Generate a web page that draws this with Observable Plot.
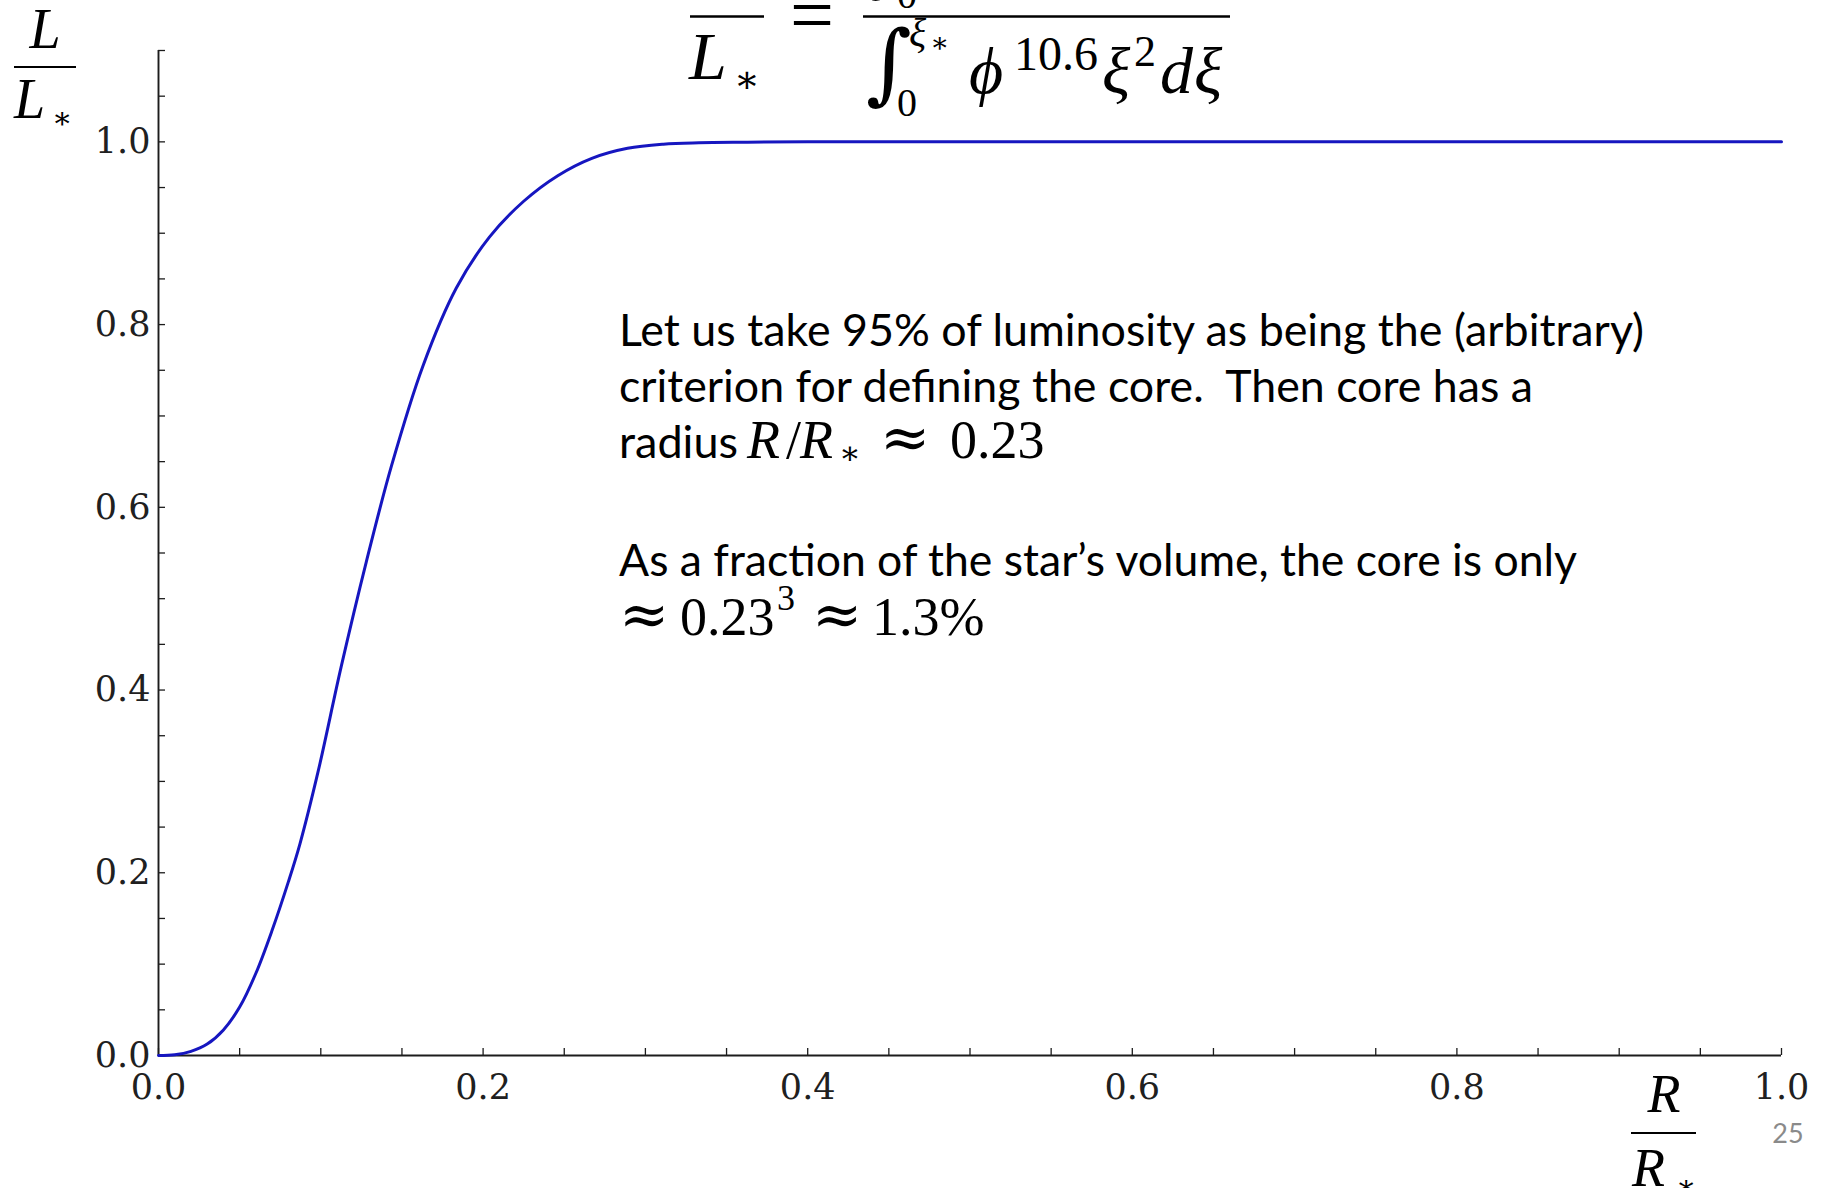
<!DOCTYPE html>
<html>
<head>
<meta charset="utf-8">
<script src="https://cdn.jsdelivr.net/npm/d3@7"></script>
<script src="https://cdn.jsdelivr.net/npm/@observablehq/plot@0.6"></script>
<style>
  html, body { margin: 0; padding: 0; background: #fff; }
  #chart { position: relative; width: 1828px; height: 1188px; overflow: hidden; }
  #chart svg { display: block; }
</style>
</head>
<body>
<div id="chart"></div>
<script>
// Enclosed luminosity L/L* as a function of fractional radius R/R*
const radius = [0, 0.01, 0.02, 0.03, 0.04, 0.05, 0.06, 0.07, 0.08, 0.0872,
  0.0985, 0.1125, 0.128, 0.1435, 0.163, 0.1835, 0.204, 0.225, 0.246, 0.267,
  0.289, 0.311, 0.333, 0.36, 0.40, 0.50, 0.60, 0.70, 0.80, 0.90, 1.0];
const luminosity = [0, 0.0008, 0.0045, 0.0125, 0.028, 0.053, 0.090, 0.137, 0.190, 0.232,
  0.312, 0.425, 0.540, 0.645, 0.755, 0.840, 0.896, 0.935, 0.963, 0.982,
  0.993, 0.9975, 0.999, 0.9996, 1.0, 1.0, 1.0, 1.0, 1.0, 1.0, 1.0];

// Labelled ticks and the finer inward tick marks (every 0.05)
const xLabelTicks = [0, 0.2, 0.4, 0.6, 0.8, 1.0];
const yLabelTicks = [0, 0.2, 0.4, 0.6, 0.8, 1.0];
const xMarkTicks = [0, 0.05, 0.1, 0.15, 0.2, 0.25, 0.3, 0.35, 0.4, 0.45, 0.5, 0.55, 0.6, 0.65,
  0.7, 0.75, 0.8, 0.85, 0.9, 0.95, 1.0];
const yMarkTicks = [0, 0.05, 0.1, 0.15, 0.2, 0.25, 0.3, 0.35, 0.4, 0.45, 0.5, 0.55, 0.6, 0.65,
  0.7, 0.75, 0.8, 0.85, 0.9, 0.95, 1.0, 1.05, 1.1];

const W = 1828, H = 1188;
const margin = {left: 158, right: 47, top: 50, bottom: 133};
const innerW = W - margin.left - margin.right;
const innerH = H - margin.top - margin.bottom;
const tickLen = 7;
const ink = "#1c1c1c";
const fmt = d3.format(".1f");

const rows = radius.map((r, i) => ({r, l: luminosity[i]}));

const svg = Plot.plot({
  width: W,
  height: H,
  marginLeft: margin.left,
  marginRight: margin.right,
  marginTop: margin.top,
  marginBottom: margin.bottom,
  x: {domain: [0, 1]},
  y: {domain: [0, 1.1]},
  style: {
    fontFamily: "'DejaVu Serif', 'Liberation Serif', serif",
    fontSize: "35px",
    color: "#202020",
    background: "#fff"
  },
  marks: [
    // inward-pointing tick marks on both spines
    Plot.tickX(xMarkTicks, {x: d => d, insetTop: innerH - tickLen, stroke: ink, strokeWidth: 1.3}),
    Plot.tickY(yMarkTicks, {y: d => d, insetRight: innerW - tickLen, stroke: ink, strokeWidth: 1.3}),
    Plot.ruleX([0], {stroke: ink, strokeWidth: 1.9}),
    Plot.ruleY([0], {stroke: ink, strokeWidth: 1.9}),
    Plot.axisX(xLabelTicks, {tickSize: 0, tickPadding: 19, tickFormat: fmt, label: null}),
    Plot.axisY(yLabelTicks, {tickSize: 0, tickPadding: 8, tickFormat: fmt, label: null}),
    Plot.line(rows, {x: "r", y: "l", stroke: "#1616c0", strokeWidth: 3, curve: "catmull-rom"})
  ]
});

document.getElementById("chart").appendChild(svg);

// ---- annotations: axis fractions, formula, notes, slide number ----
const g = d3.select(svg).append("g").attr("class", "annotations");
const serif = "'Liberation Serif', 'DejaVu Serif', serif";
const dejavu = "'DejaVu Serif', serif";
const sans = "Lato, 'Open Sans', sans-serif";

function txt(x, y, s, size, opts = {}) {
  const t = g.append("text")
    .attr("x", x).attr("y", y)
    .attr("font-family", opts.family || serif)
    .attr("font-size", size)
    .attr("font-style", opts.italic ? "italic" : "normal")
    .attr("fill", opts.fill || "#000")
    .attr("text-anchor", opts.anchor || "start")
    .style("white-space", "pre")
    .text(s);
  if (opts.length) t.attr("textLength", opts.length).attr("lengthAdjust", "spacingAndGlyphs");
  return t;
}
function bar(x1, x2, y, w = 2.2) {
  g.append("line").attr("x1", x1).attr("x2", x2).attr("y1", y).attr("y2", y)
    .attr("stroke", "#000").attr("stroke-width", w);
}

// y-axis label L / L*
txt(45, 48, "L", 56, {italic: true, anchor: "middle"});
bar(14, 76, 67);
txt(14, 118, "L", 56, {italic: true});
txt(52, 128, "\u2217", 30);

// x-axis label R / R*
txt(1664, 1112, "R", 54, {italic: true, anchor: "middle"});
bar(1631, 1696, 1133);
txt(1632, 1186, "R", 54, {italic: true});
txt(1676, 1196, "\u2217", 30);

// slide number
txt(1788, 1143, "25", 27, {family: sans, fill: "#8a8a8a", anchor: "middle"});

// formula at the top: L/L* = (∫0^ξ ...) / (∫0^ξ* φ^10.6 ξ² dξ)
bar(690, 764, 16.5, 2.6);
txt(689, 79, "L", 68, {italic: true});
txt(734, 92, "\u2217", 38);
txt(790, 41, "=", 78);
bar(863, 1230, 16.5, 2.6);
// numerator (mostly above the page edge)
txt(866, -15, "\u222B", 88, {family: dejavu});
txt(897, 8, "0", 40);
// denominator
txt(866, 93, "\u222B", 88, {family: dejavu});
txt(897, 116, "0", 40);
txt(909, 46, "\u03BE", 40, {italic: true});
txt(930, 52, "\u2217", 28);
txt(969, 93, "\u03D5", 66, {italic: true});
txt(1014, 70, "10.6", 48);
txt(1102, 93, "\u03BE", 66, {italic: true});
txt(1134, 66, "2", 44);
txt(1160, 93, "d", 66, {italic: true});
txt(1194, 93, "\u03BE", 66, {italic: true});

// explanatory notes
txt(619, 346, "Let us take 95% of luminosity as being the (arbitrary)", 45, {family: sans, length: 1025});
txt(619, 402, "criterion for defining the core.  Then core has a", 45, {family: sans, length: 914});
txt(619, 458, "radius", 45, {family: sans, length: 119});
txt(747, 458, "R", 54, {italic: true});
txt(786, 458, "/", 54);
txt(800, 458, "R", 54, {italic: true});
txt(839, 464, "\u2217", 32);
txt(880, 458, "\u2248", 60, {family: dejavu});
txt(950, 458, "0.23", 54);

txt(619, 576, "As a fraction of the star\u2019s volume, the core is only", 45, {family: sans, length: 958});
txt(619, 635, "\u2248", 60, {family: dejavu});
txt(680, 635, "0.23", 54);
txt(777, 610, "3", 36);
txt(812, 635, "\u2248", 60, {family: dejavu});
txt(872, 635, "1.3%", 54);
</script>
</body>
</html>
